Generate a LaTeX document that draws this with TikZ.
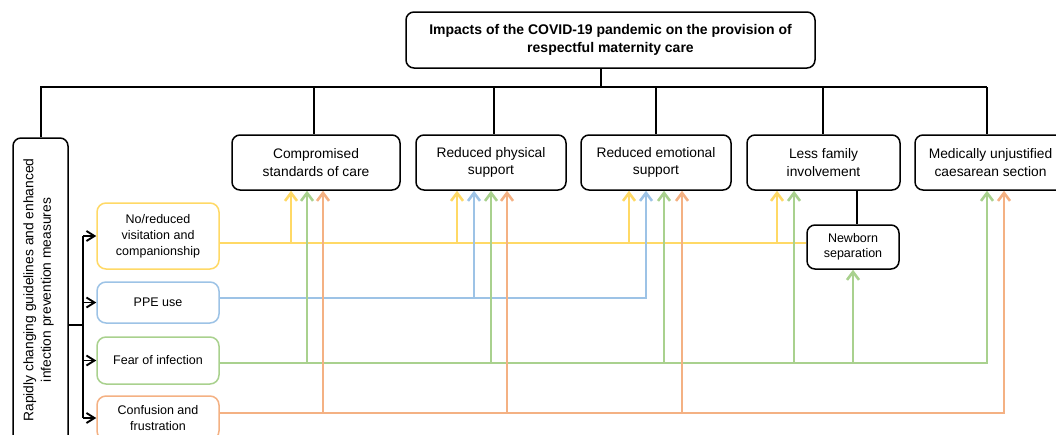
\documentclass[tikz,border=0pt]{standalone}
\usepackage{fontspec}
\setmainfont{Liberation Sans}
\usetikzlibrary{arrows.meta,calc}
\definecolor{cyel}{HTML}{FFD966}
\definecolor{cblu}{HTML}{9DC3E6}
\definecolor{cgrn}{HTML}{A9D18E}
\definecolor{corg}{HTML}{F4B183}
\begin{document}
\begin{tikzpicture}[x=1pt,y=-1pt,
  box/.style={draw=black, line width=1.5pt, rounded corners=8pt, fill=white, align=center, inner sep=0pt, font=\fontsize{13.8}{17.7}\selectfont},
  cause/.style={draw, line width=1.5pt, rounded corners=9pt, fill=white, align=center, inner sep=0pt, minimum width=122pt, font=\fontsize{12.5}{15.8}\selectfont},
  tree/.style={line width=2pt, black},
  cln/.style={line width=2.6pt},
  carr/.style={line width=2.6pt, -{Straight Barb[length=8pt,width=12pt]}},
  blk/.style={line width=1.9pt, black},
  barr/.style={line width=1.9pt, black, -{Straight Barb[length=8pt,width=10pt]}},
]
\useasboundingbox (0,0) rectangle (1056,434);

% nodes
\node[box, font=\bfseries\fontsize{14}{18.3}\selectfont, minimum width=409pt, minimum height=56pt] (title) at (610.5,40) {Impacts of the COVID-19 pandemic on the provision of\\respectful maternity care};
\node[box, minimum width=168pt, minimum height=55pt] (cs) at (316,162.5) {Compromised\\standards of care};
\node[box, minimum width=150pt, minimum height=55pt] (rp) at (491,162.5) {Reduced physical\\support};
\node[box, minimum width=150pt, minimum height=55pt] (re) at (656,162.5) {Reduced emotional\\support};
\node[box, minimum width=153pt, minimum height=55pt] (lf) at (823.5,162.5) {Less family\\involvement};
\node[box, minimum width=151pt, minimum height=55pt] (md) at (990.5,162.5) {Medically unjustified\\caesarean section};

\node[box, minimum width=55pt, minimum height=307pt] (lb) at (40.5,291.5) {};
\node[rotate=90, align=center, inner sep=0pt, font=\fontsize{13.8}{17.5}\selectfont] (lbt) at (38.5,290) {Rapidly changing guidelines and enhanced\\infection prevention measures};

\node[cause, draw=cyel, minimum height=66pt] (nr) at (158,236) {No/reduced\\visitation and\\companionship};
\node[cause, draw=cblu, minimum height=41pt] (ppe) at (158,302.5) {PPE use};
\node[cause, draw=cgrn, minimum height=47pt] (fear) at (158,360.5) {Fear of infection};
\node[cause, draw=corg, minimum height=44pt] (conf) at (158,418) {Confusion and\\frustration};

\node[box, font=\fontsize{12.5}{15}\selectfont, minimum width=92pt, minimum height=44pt] (nb) at (853,247) {Newborn\\separation};

% tree
\coordinate (bl) at (40.5,87);
\coordinate (st) at (601,87);
\coordinate (d1) at (314,87);
\coordinate (d2) at (494,87);
\coordinate (d3) at (656,87);
\coordinate (d4) at (823,87);
\coordinate (d5) at (987,87);
\draw[tree] (st |- title.south) -- (st);
\draw[tree] (lb.north) -- (bl) -- (d5);
\foreach \d/\n in {d1/cs,d2/rp,d3/re,d4/lf,d5/md} \draw[tree] (\d) -- (\d |- \n.north);
\coordinate (nbj) at (857,200);
\draw[tree] (nbj |- lf.south) -- (nbj |- nb.north);

% left connectors
\coordinate (vb) at (83,325);
\draw[blk] ([yshift=-33.5pt]lb.east) -- (vb);
\draw[blk] (vb |- nr.west) -- (vb |- conf.west);
\foreach \n in {nr,ppe,fear,conf} \draw[barr] (vb |- \n.west) -- (\n.west);

% yellow
\draw[cln, cyel] ([yshift=-7pt]nr.east) -- ([yshift=-7pt]nr.east -| nb.west);
\foreach \x/\n in {291/cs,457/rp,629/re,777/lf} {
  \coordinate (j) at (\x,243);
  \draw[carr, cyel] (j) -- (j |- \n.south);
}
% blue
\coordinate (bc) at (646,298);
\draw[carr, cblu] ([yshift=4.5pt]ppe.east) -| (bc |- re.south);
\coordinate (bj) at (474,298);
\draw[carr, cblu] (bj) -- (bj |- rp.south);
% green
\coordinate (gc) at (987,363);
\draw[carr, cgrn] ([yshift=-2.5pt]fear.east) -| (gc |- md.south);
\foreach \x/\n in {307/cs,491/rp,664/re,794/lf,853/nb} {
  \coordinate (j) at (\x,363);
  \draw[carr, cgrn] (j) -- (j |- \n.south);
}
% orange
\coordinate (oc) at (1004,413);
\draw[carr, corg] ([yshift=5pt]conf.east) -| (oc |- md.south);
\foreach \x/\n in {323/cs,507/rp,682/re} {
  \coordinate (j) at (\x,413);
  \draw[carr, corg] (j) -- (j |- \n.south);
}
\end{tikzpicture}
\end{document}
